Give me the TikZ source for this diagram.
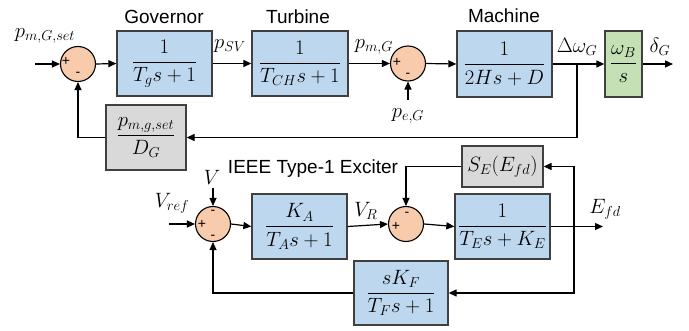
\documentclass[tikz,border=0pt]{standalone}
\usepackage{amsmath}
\usepackage[no-math]{fontspec}
\newfontfamily\arialf{Liberation Sans}
\usetikzlibrary{arrows.meta,positioning}
\definecolor{boxblue}{HTML}{BDD7EE}
\definecolor{boxgray}{HTML}{D9D9D9}
\definecolor{boxgreen}{HTML}{C5E0B4}
\definecolor{sumorange}{HTML}{F8CBAD}
\definecolor{edge}{HTML}{404040}
\tikzset{
  blk/.style={draw=edge, line width=1.3pt, fill=boxblue, inner sep=0pt, font=\fontsize{20}{24}\selectfont},
  gblk/.style={blk, fill=boxgray},
  grblk/.style={blk, fill=boxgreen},
  sumj/.style={circle, draw=black, line width=1.1pt, fill=sumorange, minimum size=35pt, inner sep=0pt},
  sgn/.style={font=\arialf\fontsize{14}{16}\selectfont, inner sep=0pt},
  lbl/.style={font=\fontsize{20}{24}\selectfont, inner sep=0pt},
  ttl/.style={font=\arialf\fontsize{19}{22}\selectfont, inner sep=0pt},
  conn/.style={line width=1.2pt, -{Triangle[length=8pt,width=7pt]}},
  wire/.style={line width=1.2pt}
}
\begin{document}
\begin{tikzpicture}[x=1pt,y=-1pt]
\useasboundingbox (0,0) rectangle (689,331);
% top row
\node[sumj] (s1) at (78,64) {};
\node[blk, minimum width=95pt, minimum height=65pt] (gov) at (164.5,63.5) {$\dfrac{1}{T_g s+1}$};
\node[blk, minimum width=96pt, minimum height=65pt] (turb) at (300,63.5) {$\dfrac{1}{T_{CH} s+1}$};
\node[sumj] (s2) at (408,63.5) {};
\node[blk, minimum width=95pt, minimum height=66pt] (mach) at (504.5,64) {$\dfrac{1}{2Hs+D}$};
\node[grblk, minimum width=37pt, minimum height=66pt] (intg) at (623.5,64) {$\dfrac{\omega_B}{s}$};
\node[gblk, minimum width=80pt, minimum height=65pt] (fb) at (146,137.5) {$\dfrac{p_{m,g,set}}{D_G}$};
% titles
\node[ttl] (tgov) at (164,17) {Governor};
\node[ttl] (tturb) at (298,17) {Turbine};
\node[ttl] (tmach) at (504,16) {Machine};
\node[ttl] (texc) at (313,169) {IEEE Type-1 Exciter};
% bottom row
\node[sumj] (s3) at (213,224) {};
\node[blk, minimum width=95pt, minimum height=65pt] (ka) at (299.5,226.5) {$\dfrac{K_A}{T_A s+1}$};
\node[sumj] (s4) at (406,224) {};
\node[blk, minimum width=95pt, minimum height=65pt] (te) at (502.5,226.5) {$\dfrac{1}{T_E s+K_E}$};
\node[gblk, minimum width=81pt, minimum height=41pt] (se) at (502.5,166.5) {$S_E(E_{fd})$};
\node[blk, minimum width=94pt, minimum height=64pt] (kf) at (401,293) {$\dfrac{sK_F}{T_F s+1}$};
% signs
\node[sgn] (p1) at (66,61) {+};
\node[sgn] (m1) at (78,74) {-};
\node[sgn] (p2) at (397,62) {+};
\node[sgn] (m2) at (408,75) {-};
\node[sgn] (p3) at (202,224) {+};
\node[sgn] (m3a) at (213,212) {-};
\node[sgn] (m3b) at (213,237) {-};
\node[sgn] (p4) at (396,226) {+};
\node[sgn] (m4) at (407,214) {-};
% labels
\node[lbl] (lpset) at (45,36) {$p_{m,G,set}$};
\node[lbl] (lpsv) at (230,46) {$p_{SV}$};
\node[lbl] (lpmg) at (374,47) {$p_{m,G}$};
\node[lbl] (lpeg) at (408,116) {$p_{e,G}$};
\node[lbl] (ldw) at (577,47) {$\Delta\omega_G$};
\node[lbl] (ldelta) at (660,47) {$\delta_G$};
\node[lbl] (lvref) at (172,203) {$V_{ref}$};
\node[lbl] (lv) at (212,177) {$V$};
\node[lbl] (lvr) at (366,211) {$V_R$};
\node[lbl] (lefd) at (605,209) {$E_{fd}$};
% coordinates
\coordinate (in1) at (35,64);
\coordinate (pein) at (408,100);
\coordinate (br1) at (577,64);
\coordinate (dout) at (673,64);
\coordinate (vrefin) at (169,224);
\coordinate (vin) at (213,188);
\coordinate (efdout) at (603,226.5);
\coordinate (br2) at (574,226.5);
% connectors top
\draw[conn] (in1) -- (s1.west);
\draw[conn] (s1.east) -- (gov.west);
\draw[conn] (gov.east) -- (turb.west);
\draw[conn] (turb.east) -- (s2.west);
\draw[conn] (pein) -- (s2.south);
\draw[conn] (s2.east) -- (mach.west);
\draw[conn] (mach.east) -- (intg.west);
\draw[conn] (intg.east) -- (dout);
\draw[conn] (br1) |- (fb.east);
\draw[conn] (fb.west) -| (s1.south);
% connectors bottom
\draw[conn] (vrefin) -- (s3.west);
\draw[conn] (vin) -- (s3.north);
\draw[conn] (s3.east) -- (ka.west);
\draw[conn] (ka.east) -- (s4.west);
\draw[conn] (s4.east) -- (te.west);
\draw[conn] (te.east) -- (efdout);
\draw[conn] (br2) |- (se.east);
\draw[conn] (br2) |- (kf.east);
\draw[conn] (se.west) -| (s4.north);
\draw[conn] (kf.west) -| (s3.south);
\end{tikzpicture}
\end{document}
